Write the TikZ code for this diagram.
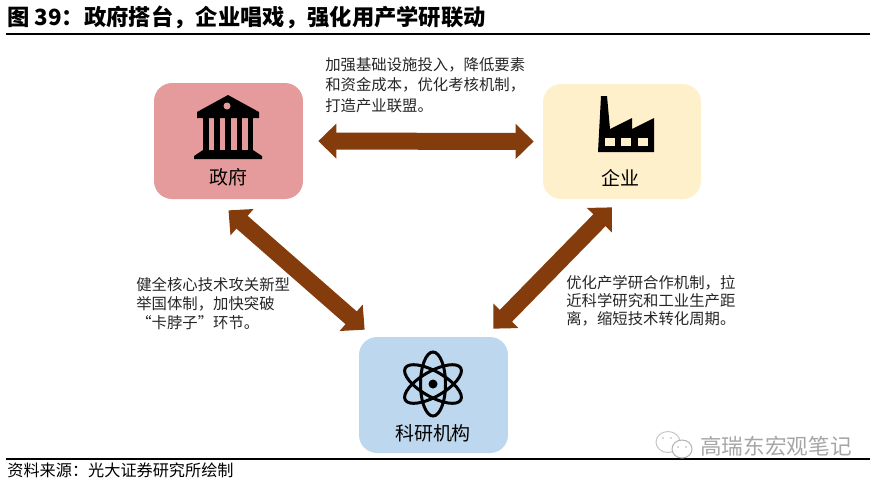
\documentclass[tikz,border=0pt]{standalone}
\usepackage{fontspec}
\setmainfont{Noto Sans CJK SC}
\usepackage{xcolor}
\usepackage{tikz}
\usetikzlibrary{arrows.meta, positioning}
\definecolor{govred}{RGB}{229, 155, 155}
\definecolor{firmyellow}{RGB}{255, 240, 204}
\definecolor{labblue}{RGB}{189, 215, 238}
\definecolor{linkbrown}{RGB}{132, 60, 12}
\definecolor{bodytext}{RGB}{38, 38, 38}

\begin{document}
\begin{tikzpicture}[x=0.02cm, y=-0.02cm,
    rolebox/.style={rounded corners=0.36cm, inner sep=0pt, minimum width=#1},
    rolename/.style={font=\fontsize{10.8}{12}\selectfont, text=black},
    note/.style={font=\fontsize{8.75}{#1}\selectfont, text=bodytext, align=left, anchor=north west, inner sep=0pt},
    link/.style={draw=linkbrown, line width=0.34cm, {Triangle[length=0.36cm,width=0.68cm]}-{Triangle[length=0.36cm,width=0.68cm]}}]
  \useasboundingbox (0,0) rectangle (881,485);

  % Title and page rules
  \node[font=\fontsize{12.7}{14}\selectfont\bfseries, anchor=west, inner sep=0pt] (title) at (7,17) {图 39：政府搭台，企业唱戏，强化用产学研联动};
  \coordinate (ruleA) at (6,34);
  \coordinate (ruleB) at (870,34);
  \draw[line width=0.04cm] (ruleA) -- (ruleB);
  \coordinate (ruleC) at (6,459);
  \coordinate (ruleD) at (870,459);
  \draw[line width=0.03cm] (ruleC) -- (ruleD);
  \node[font=\fontsize{9.2}{11}\selectfont, anchor=west, inner sep=0pt] (source) at (7,470) {资料来源：光大证券研究所绘制};

  % Three boxes
  \node[rolebox=2.98cm, minimum height=2.32cm, fill=govred] (gov) at (228.5,141) {};
  \node[rolebox=3.16cm, minimum height=2.30cm, fill=firmyellow] (firm) at (622,141.5) {};
  \node[rolebox=2.98cm, minimum height=2.32cm, fill=labblue] (lab) at (433.5,395) {};
  \node[rolename] (govname) at (228,177) {政府};
  \node[rolename] (firmname) at (620,178) {企业};
  \node[rolename] (labname) at (433,433) {科研机构};

  % Government building
  \fill (228,95) -- (259,112) -- (259,118) -- (197,118) -- (197,112) -- cycle;
  \fill[govred] (227,106) circle (3.5);
  \foreach \x in {203, 214, 225, 236.5, 247.5}{
    \fill (\x,118) rectangle (\x+5.5,150);
  }
  \fill (203,150) -- (253,150) -- (262,156) -- (262,159) -- (194,159) -- (194,156) -- cycle;

  % Factory
  \fill (601,96) -- (607,96) -- (610,129) -- (632,118) -- (632,129) -- (654,118) -- (654,152) -- (598,152) -- cycle;
  \foreach \x in {605, 621, 638}{
    \fill[firmyellow] (\x,138) rectangle (\x+10,146);
  }

  % Atom
  \foreach \a in {90, 30, -30}{
    \draw[line width=0.06cm, rotate around={\a:(433,384)}] (433,384) ellipse (32 and 12.5);
  }
  \fill (433,384) circle (4.5);

  % Double arrows between boxes
  \draw[link, shorten <=0.30cm, shorten >=0.18cm] (gov.east) -- (firm.west);
  \draw[link] ([yshift=-0.22cm]gov.south) -- ([xshift=0.12cm,yshift=0.14cm]lab.north west);
  \draw[link] ([xshift=-0.2cm,yshift=-0.16cm]firm.south) -- ([xshift=-0.3cm,yshift=0.16cm]lab.north east);

  % Notes
  \node[note=11.6] (noteTop) at (325,57) {加强基础设施投入，降低要素\\和资金成本，优化考核机制，\\打造产业联盟。};
  \node[note=10.8] (noteLeft) at (136,277) {健全核心技术攻关新型\\举国体制，加快突破\\“卡脖子”环节。};
  \node[note=10.2] (noteRight) at (566,275) {优化产学研合作机制，拉\\近科学研究和工业生产距\\离，缩短技术转化周期。};

  % Watermark
  \draw[gray!45, line width=0.02cm] (668,442) ellipse (12 and 10.5);
  \draw[gray!60, fill=white, line width=0.02cm] (682,449) ellipse (10 and 9);
  \foreach \x/\y in {663/438, 671/438, 678/447, 686/447}{
    \fill[gray!60] (\x,\y) circle (0.9);
  }
  \node[font=\fontsize{12.3}{14}\selectfont, text=gray!70, anchor=west, inner sep=0pt] (mark) at (700,446) {高瑞东宏观笔记};
\end{tikzpicture}
\end{document}
